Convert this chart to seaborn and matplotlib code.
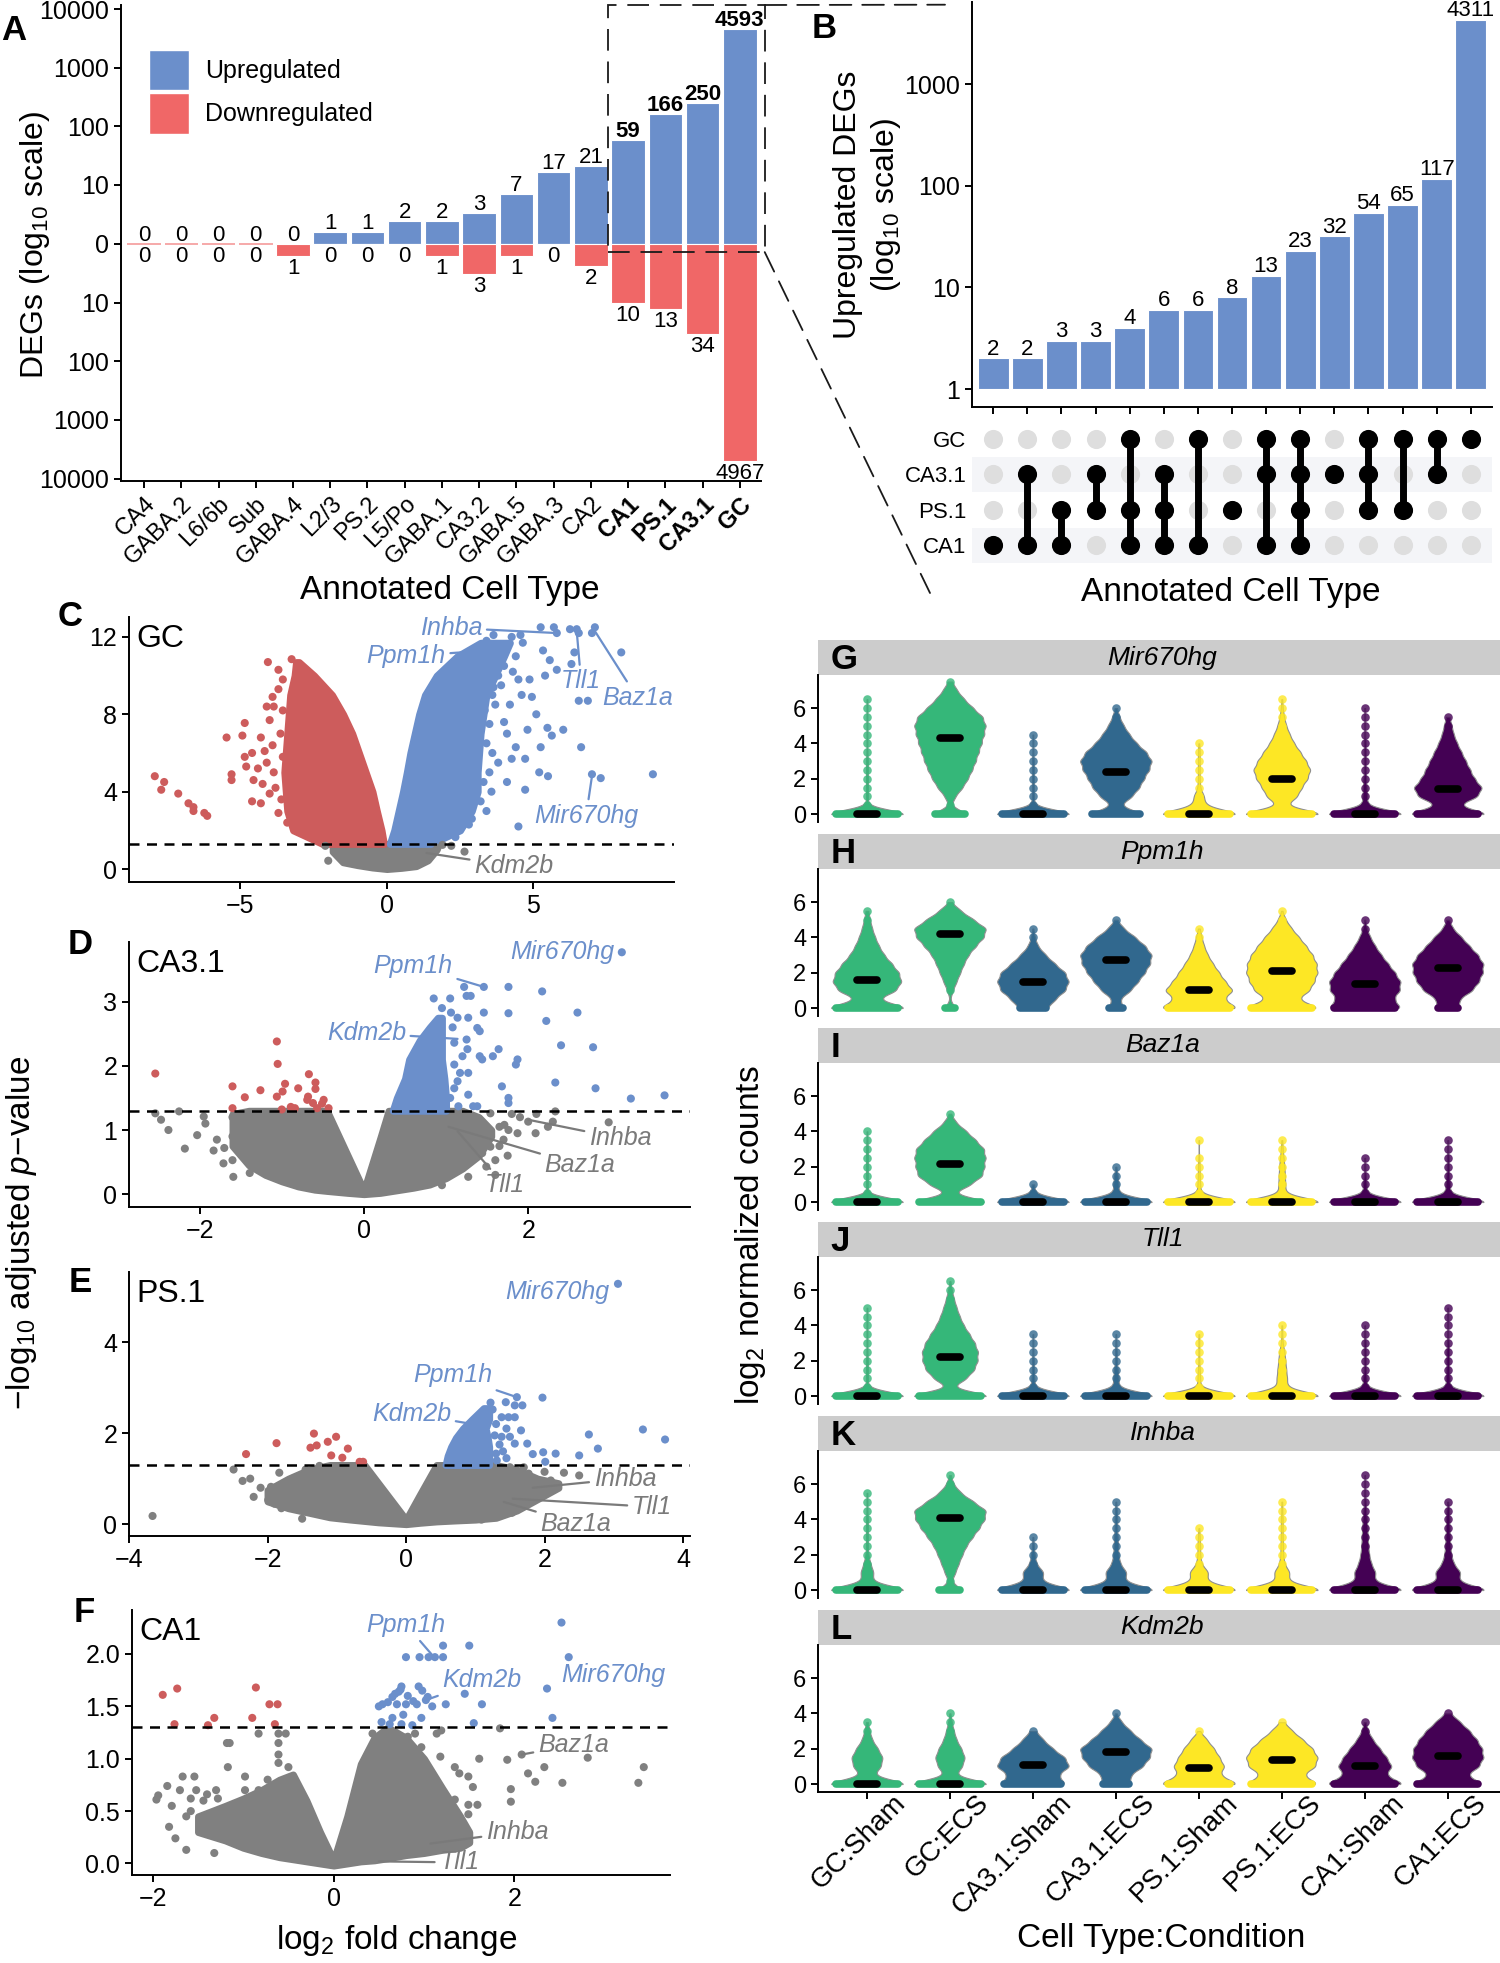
import numpy as np
import pandas as pd
import matplotlib
matplotlib.use("Agg")
import matplotlib.pyplot as plt
from matplotlib.patches import Rectangle, Patch, ConnectionPatch
from matplotlib.ticker import FormatStrFormatter
from matplotlib.transforms import ScaledTranslation
import seaborn as sns

# ---------------- Panel A data ----------------
CELL_TYPES = ["CA4", "GABA.2", "L6/6b", "Sub", "GABA.4", "L2/3", "PS.2", "L5/Po", "GABA.1",
              "CA3.2", "GABA.5", "GABA.3", "CA2", "CA1", "PS.1", "CA3.1", "GC"]
UP_DEGS = [0, 0, 0, 0, 0, 1, 1, 2, 2, 3, 7, 17, 21, 59, 166, 250, 4593]
DOWN_DEGS = [0, 0, 0, 0, 1, 0, 0, 0, 1, 3, 1, 0, 2, 10, 13, 34, 4967]
BOLD_TYPES = ["CA1", "PS.1", "CA3.1", "GC"]

# ---------------- Panel B data ----------------
UPSET_COUNTS = [2, 2, 3, 3, 4, 6, 6, 8, 13, 23, 32, 54, 65, 117, 4311]
UPSET_SETS = ["GC", "CA3.1", "PS.1", "CA1"]
UPSET_MEMBERS = [["CA1"], ["CA3.1", "CA1"], ["PS.1", "CA1"], ["CA3.1", "PS.1"],
                 ["GC", "PS.1", "CA1"], ["CA3.1", "PS.1", "CA1"], ["GC", "CA1"], ["PS.1"],
                 ["GC", "CA3.1", "CA1"], ["GC", "CA3.1", "PS.1", "CA1"], ["CA3.1"],
                 ["GC", "CA3.1", "PS.1"], ["GC", "PS.1"], ["GC", "CA3.1"], ["GC"]]

# ---------------- Volcano data (log2FC, -log10 adj p) ----------------
# C: GC  -- dense cloud envelopes + sparse points
C_GREY_X = [-1.85, -1.5, -1.0, -0.5, 0.0, 0.5, 1.0, 1.4, 1.7]
C_GREY_LO = [0.9, 0.35, 0.2, 0.08, 0.0, 0.06, 0.15, 0.45, 1.0]
C_GREY_HI = [1.3, 1.3, 1.3, 1.3, 1.3, 1.3, 1.3, 1.3, 1.3]
C_RED_Y = [1.3, 2, 3, 4, 5, 6, 7, 8, 9, 10, 10.7]
C_RED_XL = [-2.2, -3.2, -3.4, -3.45, -3.5, -3.45, -3.4, -3.35, -3.3, -3.15, -3.1]
C_RED_XR = [-0.1, -0.18, -0.34, -0.49, -0.72, -0.95, -1.18, -1.49, -1.87, -2.48, -3.0]
C_BLUE_Y = [1.3, 2, 3, 4, 5, 6, 7, 8, 9, 10, 11, 11.7]
C_BLUE_XL = [0.1, 0.25, 0.4, 0.55, 0.68, 0.8, 0.95, 1.1, 1.3, 1.7, 2.4, 3.2]
C_BLUE_XR = [1.5, 2.5, 2.9, 3.1, 3.1, 3.15, 3.2, 3.3, 3.4, 3.7, 4.0, 4.2]
C_GREY_PTS = [(-2.0, 0.43), (2.65, 0.9), (1.73, 1.1), (2.2, 1.2), (1.9, 1.25), (-2.1, 1.2)]
C_RED_PTS = [(-4.06, 10.7), (-3.25, 10.85), (-3.7, 10.3), (-3.55, 9.8), (-3.9, 8.9), (-3.86, 8.4),
             (-4.1, 8.4), (-3.55, 8.2), (-4.0, 7.7), (-4.85, 7.55), (-4.93, 6.9), (-5.47, 6.8),
             (-4.3, 6.8), (-4.6, 6.0), (-4.85, 5.8), (-4.8, 5.3), (-5.3, 4.9), (-5.3, 4.6),
             (-4.55, 4.6), (-4.24, 4.4), (-4.0, 3.9), (-4.6, 3.5), (-4.3, 3.4), (-3.7, 2.9),
             (-3.4, 2.4), (-3.1, 2.0), (-3.86, 5.0), (-3.55, 5.8), (-3.63, 7.0), (-4.17, 6.1),
             (-3.9, 6.4), (-4.1, 5.5), (-3.8, 4.2), (-4.4, 5.2), (-3.7, 9.3), (-3.6, 3.6),
             (-7.92, 4.8), (-7.6, 4.5), (-7.7, 4.1), (-7.12, 3.9), (-6.77, 3.4), (-6.6, 3.2),
             (-6.6, 3.0), (-6.23, 2.9), (-6.13, 2.75)]
C_BLUE_PTS = [(5.25, 12.5), (5.7, 12.5), (5.8, 12.2), (6.25, 12.4), (6.48, 12.4), (6.55, 12.2),
              (7.1, 12.5), (7.0, 12.2), (8.0, 11.2), (6.4, 11.2), (5.56, 10.8), (5.33, 11.3),
              (6.3, 10.6), (5.8, 10.3), (5.4, 10.0), (4.87, 9.8), (4.49, 9.8), (4.95, 8.9),
              (5.1, 8.0), (6.86, 8.7), (6.55, 8.7), (5.48, 7.3), (6.02, 7.2), (5.63, 6.9),
              (4.8, 7.2), (4.1, 7.0), (4.4, 6.3), (6.63, 6.3), (5.25, 6.3), (3.8, 5.5),
              (4.26, 5.7), (4.72, 5.7), (5.2, 5.0), (5.5, 4.8), (7.0, 4.9), (7.3, 4.7),
              (9.08, 4.9), (4.1, 4.5), (4.72, 4.1), (3.57, 4.0), (2.8, 2.3), (4.49, 2.2),
              (2.34, 1.65), (3.34, 8.2), (3.64, 9.4), (4.4, 11.0), (4.64, 11.7), (4.26, 12.0),
              (4.56, 12.1), (3.64, 12.1), (3.4, 11.8), (3.6, 9.0), (3.7, 8.5), (3.5, 7.5),
              (3.4, 6.5), (3.6, 6.0), (3.3, 4.5), (3.2, 3.5), (3.8, 10.0), (4.0, 10.5),
              (3.9, 9.5), (4.2, 8.5), (3.5, 5.0), (4.0, 7.6), (3.4, 3.0), (2.9, 2.6),
              (4.3, 10.2), (4.6, 9.0), (3.9, 11.0), (4.1, 11.5)]
C_LABELS = [("Inhba", (2.19, 12.47), (5.8, 12.2), "up"), ("Ppm1h", (0.66, 11.0), (3.0, 11.25), "up"),
            ("Tll1", (6.63, 9.7), (6.48, 12.3), "up"), ("Baz1a", (8.55, 8.85), (7.1, 12.3), "up"),
            ("Mir670hg", (6.8, 2.75), (7.0, 4.8), "up"), ("Kdm2b", (4.33, 0.14), (1.35, 0.83), "ns")]

# D: CA3.1
D_GREY_X = [-1.6, -1.4, -1.2, -1.0, -0.8, -0.6, -0.45, -0.2, 0.0, 0.2, 0.3, 0.6, 0.8, 1.0, 1.2, 1.4, 1.55]
D_GREY_LO = [0.75, 0.45, 0.3, 0.2, 0.12, 0.07, 0.05, 0.02, 0.0, 0.02, 0.04, 0.1, 0.15, 0.25, 0.4, 0.6, 0.9]
D_GREY_HI = [1.25, 1.3, 1.3, 1.3, 1.3, 1.3, 1.3, 0.61, 0.06, 0.88, 1.3, 1.3, 1.3, 1.3, 1.3, 1.2, 1.0]
D_RED_Y, D_RED_XL, D_RED_XR = [], [], []
D_BLUE_Y = [1.3, 1.5, 1.8, 2.1, 2.4, 2.6, 2.75]
D_BLUE_XL = [0.35, 0.4, 0.5, 0.55, 0.68, 0.8, 0.9]
D_BLUE_XR = [1.0, 1.0, 0.98, 0.95, 0.95, 0.95, 0.95]
D_GREY_PTS = [(-2.54, 1.26), (-2.47, 1.16), (-2.38, 1.0), (-2.25, 1.29), (-2.18, 0.71), (-2.03, 0.92),
              (-1.95, 1.21), (-1.93, 1.1), (-1.79, 0.85), (-1.83, 0.68), (-1.71, 0.48), (-1.59, 0.27),
              (-1.6, 0.53), (-1.7, 0.72), (-1.6, 0.9), (-1.5, 1.0), (-1.39, 0.33), (-1.6, 1.2),
              (-1.5, 1.25), (1.54, 1.26), (1.65, 1.05), (1.76, 1.0), (1.87, 0.95), (2.0, 1.13),
              (2.09, 0.95), (2.3, 1.13), (2.33, 1.29), (2.24, 1.05), (2.98, 1.12), (1.44, 0.64),
              (1.54, 0.74), (1.6, 0.53), (1.33, 0.58), (1.49, 0.43), (1.27, 0.27), (0.95, 0.14),
              (1.22, 0.95), (1.71, 1.08), (1.65, 0.75), (1.75, 0.6), (1.6, 0.3), (1.7, 0.85),
              (1.9, 1.2), (1.8, 1.25), (2.1, 1.25)]
D_RED_PTS = [(-2.54, 1.88), (-1.6, 1.68), (-1.45, 1.51), (-1.26, 1.62), (-1.06, 2.38), (-1.05, 2.03),
             (-1.06, 1.52), (-0.96, 1.72), (-0.99, 1.6), (-0.8, 1.65), (-0.67, 1.87), (-0.59, 1.74),
             (-0.59, 1.64), (-0.68, 1.52), (-0.62, 1.42), (-0.51, 1.41), (-0.43, 1.34), (-0.89, 1.36),
             (-0.84, 1.34), (-1.6, 1.34), (-1.0, 1.32), (-0.57, 1.34), (-0.69, 1.47), (-0.49, 1.47)]
D_BLUE_PTS = [(3.14, 3.77), (1.46, 3.23), (1.22, 3.23), (1.25, 3.09), (1.3, 3.09), (1.76, 3.23),
              (2.17, 3.16), (1.46, 2.83), (1.76, 2.82), (2.6, 2.83), (2.22, 2.7), (1.06, 2.83),
              (1.14, 2.75), (1.27, 2.75), (1.38, 2.59), (1.41, 2.54), (1.25, 2.41), (1.1, 2.36),
              (1.26, 2.26), (2.4, 2.32), (2.79, 2.29), (1.41, 2.15), (1.44, 2.1), (1.57, 2.15),
              (1.64, 2.26), (1.87, 2.1), (1.85, 2.02), (1.1, 2.02), (1.17, 1.89), (1.27, 1.89),
              (1.14, 1.76), (1.68, 1.68), (2.33, 1.74), (2.82, 1.65), (3.25, 1.49), (3.66, 1.54),
              (1.76, 1.5), (1.76, 1.42), (1.27, 1.55), (1.33, 1.37), (1.15, 1.37), (1.38, 1.37),
              (1.05, 1.5), (1.1, 1.65), (1.2, 2.15), (1.08, 2.6), (0.95, 2.9), (0.85, 3.05), (1.05, 3.05)]
D_LABELS = [("Mir670hg", (2.41, 3.77), None, "up"), ("Ppm1h", (0.6, 3.56), (1.46, 3.23), "up"),
            ("Kdm2b", (0.03, 2.51), (1.14, 2.42), "up"), ("Inhba", (3.12, 0.87), (2.0, 1.16), "ns"),
            ("Baz1a", (2.63, 0.45), (1.03, 1.05), "ns"), ("Tll1", (1.71, 0.14), (1.14, 0.98), "ns")]

# E: PS.1
E_GREY_X = [-2.0, -1.7, -1.4, -1.1, -0.8, -0.6, -0.4, -0.2, 0.0, 0.2, 0.44, 0.7, 1.0, 1.3, 1.6, 1.9, 2.2]
E_GREY_LO = [0.5, 0.35, 0.25, 0.15, 0.1, 0.07, 0.04, 0.02, 0.0, 0.03, 0.06, 0.08, 0.1, 0.14, 0.3, 0.55, 0.8]
E_GREY_HI = [0.75, 1.0, 1.2, 1.3, 1.3, 1.3, 0.9, 0.5, 0.1, 0.65, 1.3, 1.3, 1.3, 1.3, 1.2, 1.0, 0.9]
E_BLUE_Y = [1.3, 1.5, 1.7, 1.9, 2.1, 2.3, 2.55]
E_BLUE_XL = [0.57, 0.6, 0.65, 0.72, 0.82, 0.95, 1.12]
E_BLUE_XR = [1.2, 1.2, 1.2, 1.18, 1.15, 1.2, 1.2]
E_GREY_PTS = [(-3.66, 0.18), (-2.49, 1.2), (-2.36, 0.95), (-2.25, 1.0), (-1.95, 0.82), (-1.99, 0.53),
              (-1.9, 0.45), (-1.83, 1.13), (-1.63, 1.0), (-1.5, 0.12), (-1.13, 1.24), (1.53, 0.25),
              (1.7, 0.42), (1.09, 0.1), (1.77, 1.11), (2.0, 1.15), (2.09, 0.96), (2.28, 1.13),
              (2.5, 1.07), (1.86, 0.82), (1.54, 0.67), (1.67, 0.9), (-2.2, 0.6), (-2.1, 0.8),
              (-1.8, 0.35), (-1.45, 1.2), (-1.25, 1.28), (-0.95, 1.28), (1.5, 1.25), (1.7, 1.25), (1.4, 1.2)]
E_RED_PTS = [(-2.31, 1.54), (-1.87, 1.78), (-1.33, 1.99), (-1.29, 1.73), (-1.38, 1.68), (-1.13, 1.81),
             (-1.01, 1.92), (-1.08, 1.51), (-0.92, 1.46), (-0.84, 1.66), (-0.67, 1.37), (-0.62, 1.37)]
E_BLUE_PTS = [(3.06, 5.28), (1.6, 2.79), (1.97, 2.78), (1.22, 2.67), (1.44, 2.68), (1.57, 2.61),
              (1.68, 2.61), (1.25, 2.52), (1.38, 2.35), (1.48, 2.35), (1.57, 2.35), (1.66, 2.06),
              (1.38, 1.92), (1.5, 1.92), (1.57, 1.77), (1.4, 1.6), (1.75, 1.77), (1.83, 1.54),
              (1.98, 1.58), (2.16, 1.55), (2.5, 1.51), (2.64, 1.97), (2.77, 1.66), (3.42, 2.08),
              (3.74, 1.86), (2.01, 1.37), (1.31, 1.4), (1.3, 2.2), (1.35, 1.75), (1.28, 1.95),
              (1.45, 2.1), (1.3, 1.55), (1.45, 1.45)]
E_LABELS = [("Mir670hg", (2.19, 5.1), None, "up"), ("Ppm1h", (0.67, 3.27), (1.6, 2.79), "up"),
            ("Kdm2b", (0.08, 2.43), (0.99, 2.19), "up"), ("Inhba", (3.16, 1.0), (1.83, 0.8), "ns"),
            ("Tll1", (3.55, 0.38), (1.54, 0.56), "ns"), ("Baz1a", (2.45, 0.01), (1.41, 0.49), "ns")]

# F: CA1
F_GREY_X = [-1.5, -1.2, -1.0, -0.8, -0.6, -0.45, -0.3, -0.15, 0.0, 0.15, 0.3, 0.45, 0.6, 0.8, 1.0, 1.2, 1.4, 1.5]
F_GREY_LO = [0.3, 0.22, 0.15, 0.1, 0.06, 0.04, 0.02, 0.0, -0.02, 0.0, 0.02, 0.03, 0.05, 0.08, 0.1, 0.13, 0.15, 0.2]
F_GREY_HI = [0.45, 0.55, 0.62, 0.7, 0.8, 0.85, 0.6, 0.3, 0.03, 0.45, 0.95, 1.2, 1.3, 1.2, 1.0, 0.72, 0.45, 0.3]
F_GREY_PTS = [(-1.96, 0.61), (-1.94, 0.65), (-1.84, 0.74), (-1.79, 0.55), (-1.82, 0.35), (-1.75, 0.24),
              (-1.7, 0.7), (-1.67, 0.83), (-1.63, 0.45), (-1.63, 0.13), (-1.54, 0.83), (-1.58, 0.62),
              (-1.58, 0.5), (-1.52, 0.7), (-1.44, 0.6), (-1.4, 0.66), (-1.3, 0.7), (-1.28, 0.62),
              (-1.18, 1.15), (-1.15, 1.15), (-1.17, 0.92), (-1.32, 0.1), (-0.98, 0.83), (-0.98, 0.7),
              (-0.83, 1.24), (-0.83, 0.7), (-0.73, 0.8), (-0.61, 1.24), (-0.61, 1.15), (-0.61, 1.04),
              (-0.61, 0.96), (-0.53, 1.24), (-0.5, 0.92), (-0.45, 0.8), (0.43, 1.24), (0.49, 1.11),
              (0.6, 1.24), (0.82, 1.21), (0.9, 1.24), (0.97, 1.11), (1.14, 1.24), (1.19, 1.27),
              (1.18, 1.02), (1.34, 0.92), (1.39, 0.86), (1.49, 0.83), (1.54, 0.73), (1.34, 0.61),
              (1.49, 0.56), (1.59, 0.56), (1.41, 0.41), (1.49, 0.47), (1.61, 1.0), (1.84, 1.29),
              (1.92, 0.99), (1.96, 0.71), (1.96, 0.59), (2.08, 1.04), (2.15, 0.86), (2.23, 0.78),
              (2.33, 0.92), (2.53, 0.77), (2.81, 1.01), (3.37, 0.77), (3.43, 0.92), (1.28, 0.21),
              (1.19, 0.35)]
F_RED_PTS = [(-1.89, 1.61), (-1.73, 1.67), (-1.76, 1.33), (-1.39, 1.32), (-1.32, 1.39), (-0.9, 1.39),
             (-0.86, 1.68), (-0.71, 1.52), (-0.62, 1.52), (-0.65, 1.33)]
F_BLUE_PTS = [(2.52, 2.3), (2.6, 1.97), (1.21, 2.08), (1.5, 2.08), (0.8, 1.97), (0.95, 1.97),
              (1.05, 1.97), (1.12, 1.97), (1.21, 1.97), (2.36, 1.67), (2.42, 1.39), (1.45, 1.62),
              (1.64, 1.52), (1.55, 1.34), (1.24, 1.52), (1.09, 1.5), (0.94, 1.69), (0.75, 1.69),
              (0.72, 1.64), (0.65, 1.59), (0.6, 1.54), (0.54, 1.52), (0.7, 1.52), (0.8, 1.52),
              (0.92, 1.52), (1.02, 1.56), (0.77, 1.42), (0.97, 1.39), (0.65, 1.39), (0.53, 1.35),
              (0.87, 1.32), (0.75, 1.33), (1.04, 1.59), (0.5, 1.5), (0.68, 1.62), (0.82, 1.6),
              (0.74, 1.66), (0.62, 1.33), (0.98, 1.65), (0.88, 1.55)]
F_LABELS = [("Ppm1h", (0.8, 2.28), (1.09, 1.99), "up"), ("Kdm2b", (1.64, 1.75), (1.02, 1.56), "up"),
            ("Mir670hg", (3.09, 1.8), None, "up"), ("Baz1a", (2.65, 1.13), (2.08, 1.04), "ns"),
            ("Inhba", (2.03, 0.3), (1.07, 0.19), "ns"), ("Tll1", (1.39, 0.01), (0.5, 0.02), "ns")]

# ---------------- Violin data (cell counts per expression level) ----------------
GROUPS = ["GC:Sham", "GC:ECS", "CA3.1:Sham", "CA3.1:ECS", "PS.1:Sham", "PS.1:ECS", "CA1:Sham", "CA1:ECS"]
LEVELS = [0.0, 0.5, 1.0, 1.5, 2.0, 2.5, 3.0, 3.5, 4.0, 4.5, 5.0, 5.5, 6.0, 6.5, 7.0, 7.5]
GENES = ["Mir670hg", "Ppm1h", "Baz1a", "Tll1", "Inhba", "Kdm2b"]
MIR670HG_COUNTS = [
    [100, 2, 2, 2, 2, 2, 2, 1, 1, 1, 1, 1, 1, 1, 0, 0],
    [50, 3, 15, 35, 50, 62, 72, 80, 88, 95, 100, 92, 65, 40, 20, 6],
    [100, 3, 2, 2, 2, 2, 2, 1, 1, 1, 0, 0, 0, 0, 0, 0],
    [78, 12, 45, 65, 78, 92, 100, 85, 58, 38, 22, 10, 3, 0, 0, 0],
    [100, 15, 12, 3, 2, 2, 2, 2, 1, 0, 0, 0, 0, 0, 0, 0],
    [100, 10, 35, 45, 58, 65, 55, 42, 28, 18, 10, 5, 2, 1, 0, 0],
    [100, 6, 5, 4, 3, 2, 2, 2, 2, 1, 1, 1, 1, 0, 0, 0],
    [100, 25, 70, 80, 62, 52, 42, 32, 22, 14, 9, 4, 0, 0, 0, 0]]
PPM1H_COUNTS = [
    [100, 25, 68, 80, 74, 58, 40, 28, 19, 12, 7, 3, 0, 0, 0, 0],
    [15, 0, 8, 18, 28, 38, 50, 70, 92, 100, 65, 30, 4, 0, 0, 0],
    [40, 60, 88, 97, 88, 60, 35, 14, 5, 1, 0, 0, 0, 0, 0, 0],
    [22, 10, 40, 60, 78, 92, 97, 80, 53, 22, 3, 0, 0, 0, 0, 0],
    [100, 60, 85, 65, 50, 35, 22, 13, 7, 2, 0, 0, 0, 0, 0, 0],
    [100, 40, 70, 82, 90, 88, 78, 62, 44, 25, 10, 1, 0, 0, 0, 0],
    [100, 75, 92, 94, 80, 62, 44, 28, 15, 5, 1, 0, 0, 0, 0, 0],
    [31, 30, 65, 82, 92, 94, 80, 58, 37, 14, 3, 0, 0, 0, 0, 0]]
BAZ1A_COUNTS = [
    [100, 1, 2, 2, 2, 2, 2, 1, 1, 0, 0, 0, 0, 0, 0, 0],
    [100, 8, 50, 78, 82, 85, 82, 62, 40, 15, 2, 0, 0, 0, 0, 0],
    [100, 4, 3, 0, 0, 0, 0, 0, 0, 0, 0, 0, 0, 0, 0, 0],
    [100, 6, 6, 4, 1, 0, 0, 0, 0, 0, 0, 0, 0, 0, 0, 0],
    [100, 4, 3, 2, 2, 1, 0, 1, 0, 0, 0, 0, 0, 0, 0, 0],
    [100, 8, 8, 7, 6, 4, 2, 1, 0, 0, 0, 0, 0, 0, 0, 0],
    [100, 4, 4, 2, 1, 1, 0, 0, 0, 0, 0, 0, 0, 0, 0, 0],
    [100, 5, 5, 3, 2, 2, 1, 1, 0, 0, 0, 0, 0, 0, 0, 0]]
TLL1_COUNTS = [
    [100, 2, 2, 2, 2, 1, 1, 1, 1, 1, 1, 0, 0, 0, 0, 0],
    [100, 5, 37, 55, 62, 63, 56, 44, 31, 22, 15, 9, 4, 1, 0, 0],
    [100, 4, 3, 2, 2, 1, 1, 1, 0, 0, 0, 0, 0, 0, 0, 0],
    [100, 6, 6, 4, 2, 2, 1, 1, 0, 0, 0, 0, 0, 0, 0, 0],
    [100, 3, 3, 2, 1, 1, 1, 1, 0, 0, 0, 0, 0, 0, 0, 0],
    [100, 12, 12, 10, 8, 6, 2, 1, 1, 0, 0, 0, 0, 0, 0, 0],
    [100, 4, 4, 2, 2, 2, 2, 1, 1, 0, 0, 0, 0, 0, 0, 0],
    [100, 4, 4, 3, 3, 3, 2, 1, 1, 1, 1, 0, 0, 0, 0, 0]]
INHBA_COUNTS = [
    [100, 12, 15, 8, 3, 2, 2, 2, 2, 1, 1, 1, 0, 0, 0, 0],
    [34, 4, 15, 24, 34, 45, 62, 80, 95, 100, 65, 30, 10, 2, 0, 0],
    [100, 20, 25, 8, 4, 2, 1, 0, 0, 0, 0, 0, 0, 0, 0, 0],
    [100, 20, 25, 10, 6, 5, 4, 3, 3, 2, 1, 0, 0, 0, 0, 0],
    [100, 18, 22, 6, 3, 3, 2, 1, 0, 0, 0, 0, 0, 0, 0, 0],
    [100, 15, 18, 6, 3, 3, 2, 2, 2, 1, 1, 0, 0, 0, 0, 0],
    [100, 22, 25, 15, 10, 8, 7, 6, 5, 3, 2, 1, 1, 1, 0, 0],
    [100, 25, 30, 14, 8, 6, 5, 4, 4, 3, 1, 0, 0, 0, 0, 0]]
KDM2B_COUNTS = [
    [100, 15, 32, 36, 25, 12, 6, 2, 0, 0, 0, 0, 0, 0, 0, 0],
    [100, 12, 28, 34, 26, 15, 9, 4, 1, 0, 0, 0, 0, 0, 0, 0],
    [90, 65, 97, 85, 53, 28, 8, 0, 0, 0, 0, 0, 0, 0, 0, 0],
    [40, 38, 72, 90, 97, 66, 40, 16, 1, 0, 0, 0, 0, 0, 0, 0],
    [100, 50, 62, 50, 37, 20, 2, 0, 0, 0, 0, 0, 0, 0, 0, 0],
    [100, 55, 88, 94, 81, 56, 28, 6, 0, 0, 0, 0, 0, 0, 0, 0],
    [100, 50, 66, 53, 37, 20, 8, 2, 0, 0, 0, 0, 0, 0, 0, 0],
    [100, 50, 84, 95, 92, 78, 59, 34, 8, 0, 0, 0, 0, 0, 0, 0]]
MIR670HG_MEDIANS = [0, 4.3, 0, 2.4, 0, 2.0, 0, 1.4]
PPM1H_MEDIANS = [1.6, 4.2, 1.5, 2.7, 1.0, 2.1, 1.35, 2.25]
BAZ1A_MEDIANS = [0, 2.15, 0, 0, 0, 0, 0, 0]
TLL1_MEDIANS = [0, 2.2, 0, 0, 0, 0, 0, 0]
INHBA_MEDIANS = [0, 4.05, 0, 0, 0, 0, 0, 0]
KDM2B_MEDIANS = [0, 0, 1.05, 1.8, 0.9, 1.35, 1.0, 1.6]

# ---------------- style ----------------
BAR_BLUE = "#6B8FCB"
BAR_RED = "#F06767"
VOL_RED = "#CD5C5C"
VOL_BLUE = "#6B8FCB"
VOL_GREY = "#808080"
LABEL_GREY = "#7A7A7A"
CELL_COLORS = {"GC": "#35B779", "CA3.1": "#31688E", "PS.1": "#FDE725", "CA1": "#440154"}

sns.set_theme(style="ticks")
plt.rcParams["font.family"] = ["Liberation Sans", "DejaVu Sans"]
plt.rcParams.update({
    "mathtext.fontset": "custom", "mathtext.rm": "Liberation Sans",
    "mathtext.it": "Liberation Sans:italic", "mathtext.bf": "Liberation Sans:bold",
    "text.color": "black", "axes.labelcolor": "black", "axes.edgecolor": "black",
    "xtick.color": "black", "ytick.color": "black", "axes.linewidth": 1.4,
    "xtick.major.width": 1.4, "ytick.major.width": 1.4,
    "xtick.major.size": 5, "ytick.major.size": 5,
})

W, H = 1500, 1963
fig = plt.figure(figsize=(W / 100, H / 100), dpi=100)


def add_ax(x0, y0, x1, y1):
    return fig.add_axes([x0 / W, 1 - y1 / H, (x1 - x0) / W, (y1 - y0) / H])


def ftext(x, y, s, **kw):
    fig.text(x / W, 1 - y / H, s, **kw)


def classic(ax):
    ax.spines["top"].set_visible(False)
    ax.spines["right"].set_visible(False)


def plog(v):
    return np.arcsinh(np.asarray(v, dtype=float) / 2.0) / np.log(10)


# ================= Panel A =================
axA = add_ax(121, 5, 761, 481)
n = len(CELL_TYPES)
dfA = pd.DataFrame({"cell": CELL_TYPES * 2,
                    "direction": ["Upregulated"] * n + ["Downregulated"] * n,
                    "count": UP_DEGS + DOWN_DEGS})
dfA["height"] = np.where(dfA["direction"] == "Upregulated", 1, -1) * plog(dfA["count"])
sns.barplot(data=dfA, x="cell", y="height", hue="direction", order=CELL_TYPES,
            hue_order=["Upregulated", "Downregulated"],
            palette={"Upregulated": BAR_BLUE, "Downregulated": BAR_RED},
            dodge=False, width=0.9, saturation=1, edgecolor="white", linewidth=0.8,
            errorbar=None, legend=False, ax=axA)
for i, (u, d) in enumerate(zip(UP_DEGS, DOWN_DEGS)):
    if u == 0 and d == 0:
        axA.hlines(0, i - 0.45, i + 0.45, color="#F6A3A3", lw=1.3, zorder=4)
for i, (c, u, d) in enumerate(zip(CELL_TYPES, UP_DEGS, DOWN_DEGS)):
    w = "bold" if c in BOLD_TYPES else "normal"
    axA.text(i, plog(u) + 0.05, str(u), ha="center", va="baseline", fontsize=16, fontweight=w)
    axA.text(i, -plog(d) - 0.035, str(d), ha="center", va="top", fontsize=16)
tick_vals = [10000, 1000, 100, 10, 0, 10, 100, 1000, 10000]
tick_sign = [1, 1, 1, 1, 1, -1, -1, -1, -1]
axA.set_yticks([s * plog(v) for s, v in zip(tick_sign, tick_vals)])
axA.set_yticklabels([str(v) for v in tick_vals], fontsize=18)
axA.set_ylim(-4.04, 4.07)
axA.set_xlim(-0.62, 16.57)
axA.set_xlabel("")
axA.set_ylabel("")
axA.tick_params(axis="x", labelsize=17)
for lab in axA.get_xticklabels():
    lab.set_rotation(45)
    lab.set_ha("right")
    lab.set_va("top")
    lab.set_rotation_mode("anchor")
    if lab.get_text() in BOLD_TYPES:
        lab.set_fontweight("bold")
classic(axA)
axA.legend(handles=[Patch(facecolor=BAR_BLUE, edgecolor="white"), Patch(facecolor=BAR_RED, edgecolor="white")],
           labels=["Upregulated", "Downregulated"], loc="upper left", bbox_to_anchor=(0.044, 0.905),
           frameon=False, fontsize=18, handlelength=1.6, handleheight=2.1, borderpad=0,
           borderaxespad=0, labelspacing=0.12, handletextpad=0.65)
# dashed zoom box and connectors
ci = CELL_TYPES.index("CA1")
box_x0, box_x1 = ci - 0.54, 16.67
box_y0, box_y1 = -0.14, 4.07
dash = (0, (12, 6))
axA.add_patch(Rectangle((box_x0, box_y0), box_x1 - box_x0, box_y1 - box_y0, fill=False,
                        ls=dash, lw=1.3, ec="#1a1a1a", clip_on=False, zorder=6))
for xyA, xyB in [((box_x1, box_y1), (945, H - 4.7)), ((box_x1, box_y0), (930, H - 593))]:
    con = ConnectionPatch(xyA=xyA, coordsA=axA.transData, xyB=xyB, coordsB="figure pixels",
                          ls=dash, lw=1.3, color="#1a1a1a")
    fig.add_artist(con)

ftext(14, 31, "A", fontsize=25, fontweight="bold", ha="center", va="center")
ftext(35, 245, "DEGs (log$_{10}$ scale)", fontsize=23, rotation=90, ha="center", va="center")
ftext(450, 591, "Annotated Cell Type", fontsize=24, ha="center", va="center")

# ================= Panel B =================
axB = add_ax(972, 2, 1492, 407)
dfB = pd.DataFrame({"col": [str(i) for i in range(len(UPSET_COUNTS))], "count": UPSET_COUNTS})
dfB["logc"] = np.log10(dfB["count"])
sns.barplot(data=dfB, x="col", y="logc", color=BAR_BLUE, saturation=1, width=0.9,
            edgecolor="white", linewidth=0.8, errorbar=None, ax=axB)
for i, (c, lc) in enumerate(zip(dfB["count"], dfB["logc"])):
    axB.text(i, lc + 0.035, str(c), ha="center", va="baseline", fontsize=16)
axB.set_yticks([0, 1, 2, 3])
axB.set_yticklabels(["1", "10", "100", "1000"], fontsize=18)
axB.set_ylim(-0.177, 3.81)
axB.set_xlim(-0.62, 14.62)
axB.set_xticklabels([])
axB.set_xlabel("")
axB.set_ylabel("")
classic(axB)

axM = add_ax(972, 421, 1492, 563)
rows = {s: k for k, s in enumerate(UPSET_SETS)}
for k in (1, 3):
    axM.axhspan(k - 0.5, k + 0.5, color="#F4F5F8", zorder=0, lw=0)
recs = []
for c, members in enumerate(UPSET_MEMBERS):
    for s in UPSET_SETS:
        recs.append({"col": c, "row": rows[s], "member": s in members})
dfM = pd.DataFrame(recs)
sns.scatterplot(data=dfM[~dfM["member"]], x="col", y="row", color="#DEDEDE", s=190,
                linewidth=0, ax=axM, zorder=1)
for c, members in enumerate(UPSET_MEMBERS):
    rs = [rows[m] for m in members]
    if len(rs) > 1:
        axM.plot([c, c], [min(rs), max(rs)], color="black", lw=5, zorder=2)
sns.scatterplot(data=dfM[dfM["member"]], x="col", y="row", color="black", s=190,
                linewidth=0, ax=axM, zorder=3)
axM.set_xlim(-0.62, 14.62)
axM.set_ylim(3.5, -0.5)
axM.set_yticks(range(4))
axM.set_yticklabels(UPSET_SETS, fontsize=16)
axM.set_xticks([])
axM.tick_params(axis="y", length=0, pad=4)
axM.set_xlabel("")
axM.set_ylabel("")
for sp in axM.spines.values():
    sp.set_visible(False)

ftext(824, 28, "B", fontsize=25, fontweight="bold", ha="center", va="center")
ftext(868, 205, "Upregulated DEGs\n(log$_{10}$ scale)", fontsize=23, rotation=90,
      ha="center", va="center", linespacing=1.25, multialignment="center")
ftext(1231, 593, "Annotated Cell Type", fontsize=24, ha="center", va="center")


# ================= Volcano panels =================
def volcano(ax, grey, red_fill, blue_fill, grey_pts, red_pts, blue_pts, labels, title,
            xlim, ylim, xticks, yticks, yfmt=None):
    gx, glo, ghi = grey
    ax.fill_between(gx, glo, ghi, color=VOL_GREY, lw=5, edgecolor=VOL_GREY, joinstyle="round", zorder=1)
    for (fy, fl, fr), col in [(red_fill, VOL_RED), (blue_fill, VOL_BLUE)]:
        if len(fy):
            ax.fill_betweenx(fy, fl, fr, color=col, lw=5, edgecolor=col, joinstyle="round", zorder=2)
    recs = ([(x, y, "ns") for x, y in grey_pts] + [(x, y, "down") for x, y in red_pts]
            + [(x, y, "up") for x, y in blue_pts])
    df = pd.DataFrame(recs, columns=["lfc", "nlp", "status"])
    sns.scatterplot(data=df, x="lfc", y="nlp", hue="status",
                    palette={"ns": VOL_GREY, "down": VOL_RED, "up": VOL_BLUE},
                    s=34, linewidth=0, legend=False, ax=ax, zorder=3)
    ax.axhline(-np.log10(0.05), color="black", ls=(0, (4, 3)), lw=1.8, zorder=6)
    for txt, tpos, ppos, kind in labels:
        col = VOL_BLUE if kind == "up" else LABEL_GREY
        if ppos is None:
            ax.text(tpos[0], tpos[1], txt, ha="center", va="center", fontsize=18,
                    style="italic", color=col, zorder=7)
        else:
            ax.annotate(txt, xy=ppos, xytext=tpos, ha="center", va="center", fontsize=18,
                        style="italic", color=col, zorder=7,
                        arrowprops=dict(arrowstyle="-", color=col, lw=1.6, shrinkA=1, shrinkB=0))
    ax.text(0.013, 0.975, title, transform=ax.transAxes, fontsize=23, ha="left", va="top")
    ax.set_xlim(*xlim)
    ax.set_ylim(*ylim)
    ax.set_xticks(xticks)
    ax.set_yticks(yticks)
    if yfmt:
        ax.yaxis.set_major_formatter(FormatStrFormatter(yfmt))
    ax.tick_params(labelsize=18)
    ax.set_xlabel("")
    ax.set_ylabel("")
    classic(ax)


axC = add_ax(129, 617, 674, 882)
volcano(axC, (C_GREY_X, C_GREY_LO, C_GREY_HI), (C_RED_Y, C_RED_XL, C_RED_XR),
        (C_BLUE_Y, C_BLUE_XL, C_BLUE_XR), C_GREY_PTS, C_RED_PTS, C_BLUE_PTS, C_LABELS, "GC",
        (-8.8, 9.8), (-0.67, 13.03), [-5, 0, 5], [0, 4, 8, 12])
axD = add_ax(129, 942, 690, 1207)
volcano(axD, (D_GREY_X, D_GREY_LO, D_GREY_HI), (D_RED_Y, D_RED_XL, D_RED_XR),
        (D_BLUE_Y, D_BLUE_XL, D_BLUE_XR), D_GREY_PTS, D_RED_PTS, D_BLUE_PTS, D_LABELS, "CA3.1",
        (-2.86, 3.97), (-0.2, 3.93), [-2, 0, 2], [0, 1, 2, 3])
axE = add_ax(129, 1272, 690, 1536)
volcano(axE, (E_GREY_X, E_GREY_LO, E_GREY_HI), ([], [], []),
        (E_BLUE_Y, E_BLUE_XL, E_BLUE_XR), E_GREY_PTS, E_RED_PTS, E_BLUE_PTS, E_LABELS, "PS.1",
        (-4.0, 4.1), (-0.26, 5.54), [-4, -2, 0, 2, 4], [0, 2, 4])
axF = add_ax(132, 1610, 670, 1875)
volcano(axF, (F_GREY_X, F_GREY_LO, F_GREY_HI), ([], [], []), ([], [], []),
        F_GREY_PTS, F_RED_PTS, F_BLUE_PTS, F_LABELS, "CA1",
        (-2.23, 3.72), (-0.11, 2.42), [-2, 0, 2], [0, 0.5, 1.0, 1.5, 2.0], yfmt="%.1f")

for letter, (x, y) in zip("CDEF", [(70, 617), (80, 945), (80, 1283), (84, 1613)]):
    ftext(x, y, letter, fontsize=25, fontweight="bold", ha="center", va="center")
ftext(22, 1233, "\u2212log$_{10}$ adjusted $p$\u2212value", fontsize=24, rotation=90,
      ha="center", va="center")
ftext(397, 1940, "log$_{2}$ fold change", fontsize=24, ha="center", va="center")

# ================= Violin panels =================
GENE_COUNTS = [MIR670HG_COUNTS, PPM1H_COUNTS, BAZ1A_COUNTS, TLL1_COUNTS, INHBA_COUNTS, KDM2B_COUNTS]
GENE_MEDIANS = [MIR670HG_MEDIANS, PPM1H_MEDIANS, BAZ1A_MEDIANS, TLL1_MEDIANS, INHBA_MEDIANS, KDM2B_MEDIANS]
LETTERS = ["G", "H", "I", "J", "K", "L"]
levels = np.array(LEVELS)
for k, gene in enumerate(GENES):
    top = 640 + 194 * k
    axS = add_ax(818, top, 1500, top + 35)
    axS.set_facecolor("#CCCCCC")
    axS.set_xticks([])
    axS.set_yticks([])
    for sp in axS.spines.values():
        sp.set_visible(False)
    axS.text(0.505, 0.5, gene, style="italic", fontsize=19, ha="center", va="center",
             transform=axS.transAxes)
    axS.text(0.018, 0.45, LETTERS[k], fontweight="bold", fontsize=25, ha="left", va="center",
             transform=axS.transAxes)

    ax = add_ax(818, top + 35, 1500, top + 182)
    for i, grp in enumerate(GROUPS):
        col = CELL_COLORS[grp.split(":")[0]]
        counts = np.array(GENE_COUNTS[k][i])
        vals = np.repeat(levels, counts)
        bw = 0.25 / np.std(vals)
        sns.violinplot(x=[grp] * len(vals), y=vals, order=GROUPS, color=col, saturation=1,
                       cut=0, density_norm="width", width=0.86, inner=None, bw_method=bw,
                       gridsize=200, linewidth=0.8, linecolor="#8F8F8F", ax=ax)
        nz = (counts > 0) & (levels > 0)
        ax.scatter(np.full(nz.sum(), i), levels[nz], s=38, color=col, alpha=0.8,
                   linewidths=0, zorder=4)
        half = 0.37 * counts[0] / counts.max()
        ax.plot([i - half, i + half], [0, 0], color=col, lw=5.5, solid_capstyle="round", zorder=4)
        m = GENE_MEDIANS[k][i]
        ax.plot([i - 0.12, i + 0.12], [m, m], color="black", lw=5.5, solid_capstyle="round", zorder=5)
    ax.set_xlim(-0.59, 7.63)
    ax.set_ylim(-0.45, 7.87)
    ax.set_yticks([0, 2, 4, 6])
    ax.tick_params(axis="y", labelsize=17)
    ax.set_xlabel("")
    ax.set_ylabel("")
    classic(ax)
    if k < len(GENES) - 1:
        ax.spines["bottom"].set_visible(False)
        ax.set_xticks([])
    else:
        ax.set_xticks(range(len(GROUPS)))
        ax.set_xticklabels(GROUPS, fontsize=20)
        shift = ScaledTranslation(0.26, 0.14, fig.dpi_scale_trans)
        for lab in ax.get_xticklabels():
            lab.set_rotation(45)
            lab.set_ha("right")
            lab.set_va("top")
            lab.set_rotation_mode("anchor")
            lab.set_transform(lab.get_transform() + shift)

ftext(751, 1235, "log$_{2}$ normalized counts", fontsize=24, rotation=90, ha="center", va="center")
ftext(1161, 1938, "Cell Type:Condition", fontsize=24, ha="center", va="center")

fig.savefig("out.png", dpi=100)
